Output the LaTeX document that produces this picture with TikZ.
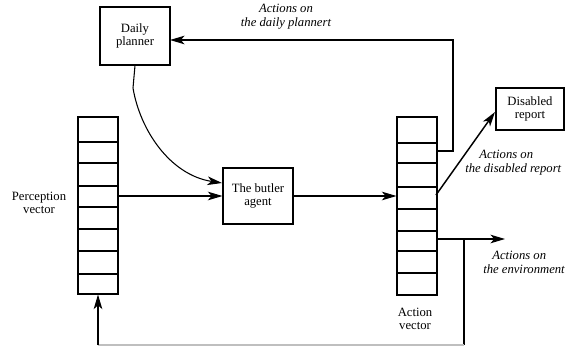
\documentclass[tikz,border=0pt]{standalone}
\usepackage{fontspec}
\setmainfont{Liberation Serif}
\usetikzlibrary{arrows.meta}

\tikzset{
	box/.style={draw, line width=0.8pt, align=center, inner sep=0pt, font=\fontsize{9.5}{10}\selectfont},
	vec/.style={draw, line width=0.8pt, minimum width=30pt, inner sep=0pt},
	arr/.style={line width=0.8pt, -{Stealth[length=11pt, width=6.5pt, inset=3pt]}},
	lbl/.style={inner sep=0pt, font=\fontsize{9.5}{10.5}\selectfont\itshape},
	txt/.style={inner sep=0pt, align=center, font=\fontsize{9.5}{9.5}\selectfont}
}

\begin{document}
\begin{tikzpicture}[x=0.75pt, y=-0.75pt]
		%%%%% START %%%%%
		\useasboundingbox (0, 0) rectangle (565, 347);
		
		\node[box, minimum width=52.5pt, minimum height=43.5pt] (planner) at (135, 36) {Daily\\planner};
		\node[box, minimum width=52.5pt, minimum height=42pt] (butler) at (258, 196) {The butler\\agent};
		\node[box, minimum width=51pt, minimum height=31.5pt] (report) at (530, 109) {Disabled\\report};
		
		\node[vec, minimum height=132.75pt] (percept) at (98, 205.5) {};
		\draw[line width=0.8pt] (78, 142) -- (118, 142);
		\draw[line width=0.8pt] (78, 163) -- (118, 163);
		\draw[line width=0.8pt] (78, 186) -- (118, 186);
		\draw[line width=0.8pt] (78, 207) -- (118, 207);
		\draw[line width=0.8pt] (78, 229) -- (118, 229);
		\draw[line width=0.8pt] (78, 251) -- (118, 251);
		\draw[line width=0.8pt] (78, 274) -- (118, 274);
		
		\node[vec, minimum height=133.5pt] (action) at (417, 206) {};
		\draw[line width=0.8pt] (397, 143) -- (437, 143);
		\draw[line width=0.8pt] (397, 163) -- (437, 163);
		\draw[line width=0.8pt] (397, 187) -- (437, 187);
		\draw[line width=0.8pt] (397, 209) -- (437, 209);
		\draw[line width=0.8pt] (397, 231) -- (437, 231);
		\draw[line width=0.8pt] (397, 251) -- (437, 251);
		\draw[line width=0.8pt] (397, 273) -- (437, 273);
		
		\node[txt] (perceptlbl) at (39, 203) {Perception\\vector};
		\node[txt] (actionlbl) at (415, 319) {Action\\vector};
		
		\coordinate (plannerin) at (170, 40);
		\coordinate (butlerin) at (222, 183);
		\coordinate (aplanner) at (437, 151);
		\coordinate (areport) at (436, 195);
		\coordinate (reportin) at (495, 112);
		\coordinate (aenv) at (437, 239);
		\coordinate (envout) at (505, 239);
		\coordinate (fork) at (464, 239);
		\coordinate (back) at (464, 345);
		\coordinate (ret) at (percept.south |- 0, 345);
		
		\draw[arr] (percept.east |- butler.west) -- (butler.west);
		\draw[arr] (butler.east) -- (action.west |- butler.east);
		\draw[arr] (planner.south) -- (133, 88) .. controls (140, 130) and (170, 175) .. (butlerin);
		\draw[arr] (aplanner) -- (453, 151) -- (453, 40) -- (plannerin);
		\draw[arr, line width=1.1pt] (areport) -- (reportin);
		\draw[arr] (aenv) -- (envout);
		\draw[line width=0.8pt] (fork) -- (back);
		\draw[line width=0.8pt, color=black!25] (back) -- (ret);
		\draw[arr] (ret) -- (percept.south);
		
		\node[lbl, align=center] (lblplanner) at (286, 17) {Actions on\\the daily plannert};
		\node[lbl, align=left, anchor=west] (lblreport) at (465, 163) {\hspace*{10.5pt}Actions on\\the disabled report};
		\node[lbl, align=left, anchor=west] (lblenv) at (483, 262) {\hspace*{6.75pt}Actions on\\the environment};
		
		%%%%% END %%%%%
	\end{tikzpicture}
\end{document}
